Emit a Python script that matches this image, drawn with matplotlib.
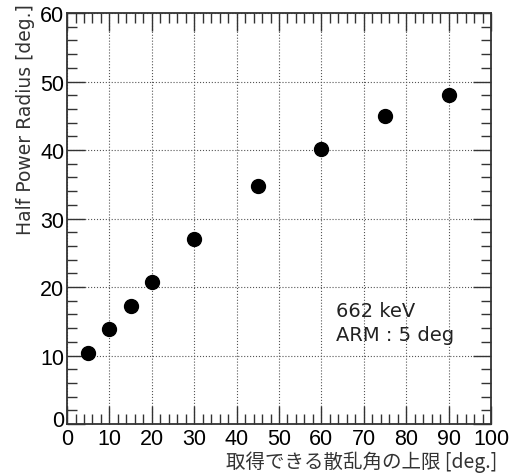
import matplotlib
matplotlib.use('Agg')
import matplotlib.pyplot as plt
import matplotlib.transforms as mtransforms
from matplotlib.ticker import MultipleLocator

# upper limit of the scattering angle vs. half power radius
angle_max = [5, 10, 15, 20, 30, 45, 60, 75, 90]
hpr = [10.4, 13.9, 17.2, 20.7, 27.0, 34.7, 40.2, 44.9, 48.0]

xlabel = '取得できる散乱角の上限 [deg.]'
ylabel = 'Half Power Radius [deg.]'
note = '662 keV\nARM : 5 deg'

plt.rcParams['font.family'] = ['Liberation Sans', 'DejaVu Sans']

fig = plt.figure(figsize=(5.12, 4.77), dpi=100)
ax = fig.add_axes([0.1309, 0.109, 0.8281, 0.8616])

ax.plot(angle_max, hpr, linestyle='none', marker='o', markersize=10,
        color='black', zorder=3)

ax.set_xlim(0, 100)
ax.set_ylim(0, 60)

ax.xaxis.set_major_locator(MultipleLocator(10))
ax.xaxis.set_minor_locator(MultipleLocator(2))
ax.yaxis.set_major_locator(MultipleLocator(10))
ax.yaxis.set_minor_locator(MultipleLocator(2))

ax.tick_params(which='both', direction='in', top=True, right=True,
               color='#333333', width=1.0)
ax.tick_params(which='major', length=13, labelsize=15.5)
ax.tick_params(which='minor', length=7)
ax.tick_params(axis='x', pad=3)
ax.tick_params(axis='y', pad=2)

for s in ax.spines.values():
    s.set_linewidth(1.3)
    s.set_color('#333333')

ax.grid(True, which='major', linestyle=':', linewidth=0.8, color='#555555')

# lift the y-axis "0" a little so it sits clear of the x-axis "0"
fig.canvas.draw()
lift = mtransforms.ScaledTranslation(0, 4 / 72, fig.dpi_scale_trans)
for lab in ax.get_yticklabels():
    if lab.get_text() == '0':
        lab.set_transform(lab.get_transform() + lift)

ax.set_xlabel(xlabel, family=['Noto Sans CJK JP', 'DejaVu Sans'],
              fontsize=14, color='#333333', ha='right', x=1.015, labelpad=1)
ax.set_ylabel(ylabel, family=['DejaVu Sans'], fontsize=13.5,
              color='#333333', ha='right', y=1.025, labelpad=4)

ax.text(63.5, 14.8, note, fontsize=14, family=['DejaVu Sans'],
        color='#222222', va='center', ha='left', linespacing=1.3)

fig.savefig('out.png', dpi=100)
